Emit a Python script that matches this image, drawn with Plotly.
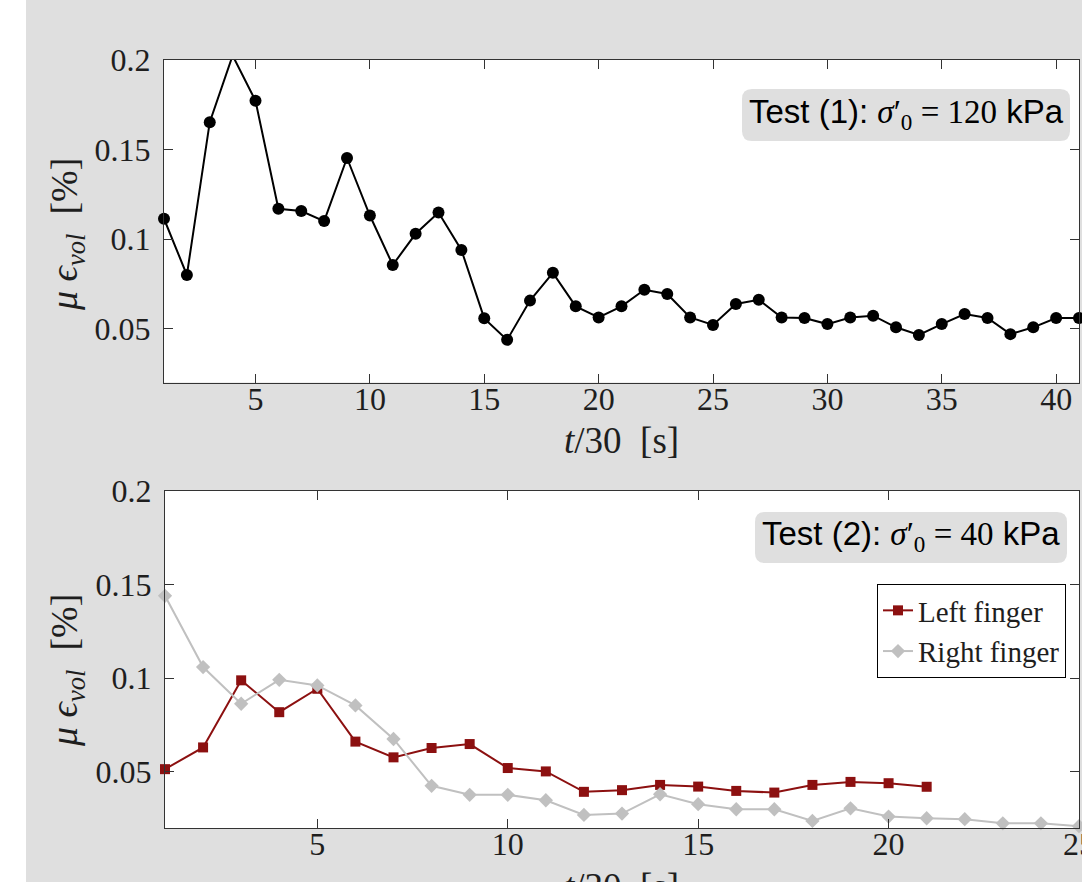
import plotly.graph_objects as go

# ---------------- data ----------------
t_test1 = list(range(1, 42))
mu_test1 = [0.1114, 0.0800, 0.1653, 0.2025, 0.1772, 0.1170, 0.1157, 0.1101, 0.1453, 0.1132,
            0.0856, 0.1030, 0.1149, 0.0940, 0.0558, 0.0438, 0.0657, 0.0812, 0.0625, 0.0563,
            0.0625, 0.0718, 0.0694, 0.0563, 0.0521, 0.0638, 0.0662, 0.0563, 0.0560, 0.0526,
            0.0563, 0.0573, 0.0508, 0.0465, 0.0526, 0.0582, 0.0560, 0.0470, 0.0508, 0.0560,
            0.0560]

t_left = list(range(1, 22))
mu_left = [0.0514, 0.0630, 0.0988, 0.0818, 0.0943, 0.0661, 0.0577, 0.0627, 0.0648, 0.0520,
           0.0502, 0.0393, 0.0402, 0.0430, 0.0421, 0.0398, 0.0389, 0.0430, 0.0446, 0.0439,
           0.0420]

t_right = list(range(1, 26))
mu_right = [0.1439, 0.1059, 0.0863, 0.0991, 0.0961, 0.0854, 0.0675, 0.0425, 0.0377, 0.0377,
            0.0348, 0.0270, 0.0277, 0.0380, 0.0327, 0.0300, 0.0300, 0.0238, 0.0305, 0.0261,
            0.0252, 0.0247, 0.0225, 0.0225, 0.0210]

y_range = [0.02, 0.2]
y_tickvals = [0.05, 0.1, 0.15, 0.2]
y_ticktext = ["0.05", "0.1", "0.15", "0.2"]
x1_tickvals = [5, 10, 15, 20, 25, 30, 35, 40]
x2_tickvals = [5, 10, 15, 20, 25]

# ---------------- style ----------------
W, H = 1082, 882
ML, MR, MT, MB = 164, 3, 60, 54
PW, PH = W - ML - MR, H - MT - MB

def px(x):
    return (x - ML) / PW

def py(y):
    return (H - MB - y) / PH

BG = "#dfdfdf"
AXC = "#333333"
TXT = "#1e1e1e"
RED = "#8c1010"
GREY = "#c0c0c0"
SERIF = "Liberation Serif"
SANS = "Liberation Sans"

fig = go.Figure()

# top: line (clipped) + markers (not clipped, out-of-range markers removed)
fig.add_trace(go.Scatter(x=t_test1, y=mu_test1, mode="lines",
                         line=dict(color="black", width=2), cliponaxis=True,
                         showlegend=False, xaxis="x", yaxis="y", hoverinfo="skip"))
mu_test1_marks = [v if y_range[0] <= v <= y_range[1] else None for v in mu_test1]
fig.add_trace(go.Scatter(x=t_test1, y=mu_test1_marks, mode="markers",
                         marker=dict(color="black", size=12, symbol="circle"),
                         cliponaxis=False, showlegend=False, xaxis="x", yaxis="y"))

# bottom
fig.add_trace(go.Scatter(x=t_left, y=mu_left, mode="lines+markers", name="Left finger",
                         line=dict(color=RED, width=2),
                         marker=dict(color=RED, size=10, symbol="square"),
                         cliponaxis=False, xaxis="x2", yaxis="y2"))
fig.add_trace(go.Scatter(x=t_right, y=mu_right, mode="lines+markers", name="Right finger",
                         line=dict(color=GREY, width=2),
                         marker=dict(color=GREY, size=11, symbol="diamond"),
                         cliponaxis=False, xaxis="x2", yaxis="y2"))

top_dom = [py(382.5), 1.0]
bot_dom = [0.0, py(490.7)]

tickfont = dict(family=SERIF, size=32, color=TXT)

common_x = dict(showline=True, linecolor=AXC, linewidth=1, mirror="ticks", ticks="inside",
                ticklen=9, tickcolor=AXC, tickwidth=1, showgrid=False, zeroline=False,
                tickfont=tickfont, ticklabelstandoff=-12, ticklabeloverflow="allow")
common_y = dict(showline=True, linecolor=AXC, linewidth=1, mirror="ticks", ticks="inside",
                ticklen=9, tickcolor=AXC, tickwidth=1, showgrid=False, zeroline=False,
                tickfont=tickfont, range=y_range, tickvals=y_tickvals, ticktext=y_ticktext,
                ticklabelstandoff=6)

fig.update_layout(
    width=W, height=H,
    margin=dict(l=ML, r=MR, t=MT, b=MB, autoexpand=False),
    paper_bgcolor=BG, plot_bgcolor="white",
    xaxis=dict(domain=[0, 1], range=[1, 41], tickvals=x1_tickvals, anchor="y", **common_x),
    yaxis=dict(domain=top_dom, anchor="x", **common_y),
    xaxis2=dict(domain=[px(165), 1], range=[1, 25], tickvals=x2_tickvals, anchor="y2", **common_x),
    yaxis2=dict(domain=bot_dom, anchor="x2", **common_y),
    showlegend=True,
    legend=dict(x=px(1066), y=py(584), xanchor="right", yanchor="top",
                bgcolor="white", bordercolor="black", borderwidth=1,
                font=dict(family=SERIF, size=29, color=TXT), tracegroupgap=0),
)

# white strip on the left
fig.add_shape(type="rect", xref="paper", yref="paper", x0=px(-5), x1=px(26), y0=py(H + 5), y1=py(-5),
              fillcolor="white", line=dict(width=0), layer="below")

def rounded_box(left, bottom, w, h, r=10):
    path = (f"M {r},0 L {w - r},0 Q {w},0 {w},{r} L {w},{h - r} Q {w},{h} {w - r},{h} "
            f"L {r},{h} Q 0,{h} 0,{h - r} L 0,{r} Q 0,0 {r},0 Z")
    fig.add_shape(type="path", path=path, xref="paper", yref="paper",
                  xsizemode="pixel", ysizemode="pixel",
                  xanchor=px(left), yanchor=py(bottom),
                  fillcolor=BG, line=dict(width=0), layer="above")

rounded_box(742, 141, 328, 52)
rounded_box(755, 563, 312, 51)

def label(text, x, y):
    fig.add_annotation(text=text, xref="paper", yref="paper", x=px(x), y=py(y),
                       xanchor="center", yanchor="middle", showarrow=False,
                       font=dict(family=SANS, size=33, color="black"))

label(f'Test (1): <span style="font-family:{SERIF}"><i>σ</i>′<sub>0</sub> = 120</span> kPa', 906, 114)
label(f'Test (2): <span style="font-family:{SERIF}"><i>σ</i>′<sub>0</sub> = 40</span> kPa', 911, 536)

# axis titles
ytitle = "<i>μ ϵ</i><sub><i>vol</i></sub>  [%]"
for yc in (235, 671):
    fig.add_annotation(text=ytitle, xref="paper", yref="paper", x=px(67), y=py(yc),
                       xanchor="center", yanchor="middle", textangle=-90, showarrow=False,
                       font=dict(family=SERIF, size=38, color=TXT))

xtitle = "<i>t</i>/30  [s]"
for yc in (440, 886):
    fig.add_annotation(text=xtitle, xref="paper", yref="paper", x=px(621.5), y=py(yc),
                       xanchor="center", yanchor="middle", showarrow=False,
                       font=dict(family=SERIF, size=37, color=TXT))

fig.write_html("out.html")
